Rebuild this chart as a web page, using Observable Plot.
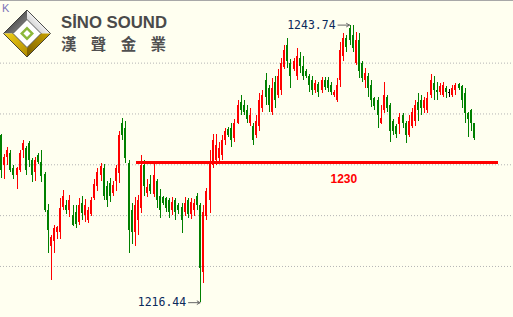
<!DOCTYPE html>
<html><head><meta charset="utf-8">
<script src="https://cdn.jsdelivr.net/npm/d3@7"></script>
<script src="https://cdn.jsdelivr.net/npm/@observablehq/plot@0.6"></script>
<style>
html,body{margin:0;padding:0;background:#fffff0;}
#wrap{position:relative;width:513px;height:317px;overflow:hidden;background:#fffff0;}
#wrap svg{display:block;}
.ovl{position:absolute;left:0;top:0;}
</style></head><body><div id="wrap"></div>
<script>
// ---- candle data (price, one bar per index) ----
const open = [
1232.9,1229.9,1230.7,1231.1,1229.6,1228.9,1229.4,1231.4,1231.6,1232.1,1230.4,1229.2,1230.9,1230.2,1229.0,1225.5,1222.0,1222.5,1223.3,1223.3,1225.8,1226.0,1225.5,1225.0,1225.3,1224.3,1226.2,1225.0,
1224.5,1225.1,1226.7,1227.9,1228.9,1229.6,1227.9,1228.2,1227.2,1228.4,1229.1,1234.1,1233.6,1230.1,1225.5,1223.3,1224.5,1225.7,1229.9,1227.2,1228.1,1227.1,1228.4,1226.9,
1226.8,1226.7,1226.5,1225.5,1226.5,1226.0,1225.8,1225.3,1226.5,1225.1,1225.5,1226.9,1226.0,1219.4,1224.9,1226.5,1229.9,1230.4,1230.6,1230.9,1232.4,1233.5,1233.6,1232.6,1234.1,1236.1,
1235.8,1235.3,1234.1,1233.8,1232.9,1233.8,1235.5,1238.3,1237.5,1235.1,1238.1,1236.8,1237.3,1239.6,1241.7,1240.0,1239.4,1238.7,1240.5,1239.7,1239.2,1238.7,1238.3,1237.3,1237.9,1237.3,1238.3,
1238.3,1237.8,1236.8,1236.3,1238.3,1240.7,1242.4,1243.4,1242.7,1240.0,1242.2,1240.0,1238.3,1238.7,1237.8,1236.5,1236.3,1234.1,1235.3,1236.6,1235.8,1234.3,1233.8,1234.0,1234.8,1234.1,
1232.9,1233.8,1234.3,1236.1,1236.3,1235.5,1235.3,1236.8,1238.0,1237.3,1237.1,1236.8,1237.5,1237.1,1236.8,1237.3,1237.9,1237.7,1237.0,1235.0,1235.3,1234.1
];
const high = [
1233.0,1231.0,1231.7,1231.4,1229.9,1229.7,1231.4,1232.4,1231.8,1232.3,1230.6,1230.7,1231.1,1231.4,1229.2,1226.1,1223.0,1224.0,1223.9,1226.7,1227.5,1226.5,1227.0,1226.0,1226.0,1226.7,1226.9,1226.6,
1225.8,1226.8,1228.6,1229.6,1230.1,1230.0,1228.4,1228.7,1228.4,1229.9,1233.3,1234.6,1234.3,1230.4,1226.2,1226.8,1227.0,1230.9,1230.4,1228.6,1228.9,1230.1,1228.6,1227.6,
1226.9,1226.8,1226.7,1226.8,1226.7,1226.2,1226.2,1226.8,1226.7,1226.7,1226.6,1227.2,1226.2,1226.0,1227.7,1231.4,1233.0,1233.0,1232.2,1232.9,1233.6,1233.7,1234.1,1234.5,1236.3,1236.8,
1236.3,1235.8,1235.5,1234.1,1234.8,1237.0,1237.3,1239.0,1237.8,1238.5,1238.7,1239.4,1240.5,1241.7,1242.4,1240.4,1240.5,1241.4,1241.0,1240.7,1239.4,1238.9,1238.7,1238.3,1238.1,1238.6,1238.6,
1238.6,1238.1,1237.3,1238.5,1242.0,1242.9,1242.7,1243.74,1243.7,1243.0,1242.9,1240.2,1239.5,1239.0,1238.3,1236.6,1236.6,1235.8,1238.1,1236.8,1236.0,1234.5,1234.0,1235.0,1235.0,1234.3,
1234.8,1235.5,1236.3,1237.0,1236.8,1236.6,1237.1,1238.9,1238.7,1238.1,1238.0,1238.1,1237.7,1237.4,1237.8,1238.0,1238.0,1237.8,1237.5,1235.1,1235.4,1234.1
];
const low = [
1228.7,1228.6,1229.9,1229.2,1228.6,1227.6,1229.2,1230.6,1228.9,1229.7,1228.3,1228.4,1230.0,1228.3,1225.3,1221.3,1218.6,1221.3,1222.7,1222.7,1225.5,1225.1,1224.8,1223.9,1223.7,1224.0,1224.5,1224.3,
1224.2,1224.9,1226.5,1227.4,1228.4,1226.5,1225.8,1226.3,1226.9,1227.4,1228.2,1232.4,1230.1,1221.3,1222.2,1222.0,1223.0,1225.2,1226.9,1226.8,1227.1,1226.8,1225.7,1224.7,
1226.0,1225.3,1224.7,1225.0,1224.5,1225.1,1223.2,1224.9,1224.7,1224.6,1224.9,1225.5,1216.44,1218.3,1224.5,1225.2,1229.6,1229.9,1230.2,1230.4,1231.9,1232.7,1231.7,1232.2,1234.0,1234.8,
1234.8,1234.1,1233.8,1231.9,1232.6,1233.3,1235.1,1235.8,1235.1,1234.8,1235.5,1236.5,1236.8,1239.4,1239.5,1237.5,1239.2,1238.3,1239.0,1238.3,1238.5,1237.1,1236.8,1237.0,1236.6,1237.0,1237.3,
1237.1,1236.8,1236.6,1236.1,1237.6,1240.2,1241.0,1241.7,1241.0,1239.8,1238.5,1238.1,1237.5,1236.6,1235.6,1235.3,1233.6,1234.0,1235.0,1235.1,1232.2,1232.9,1232.6,1233.0,1233.6,1232.1,
1232.7,1233.6,1233.8,1234.3,1234.8,1235.0,1235.0,1236.5,1236.3,1236.3,1236.8,1236.6,1236.5,1236.6,1236.6,1236.8,1237.3,1235.5,1234.1,1232.7,1233.3,1232.4
];
const close = [
1229.4,1230.7,1231.4,1229.4,1228.9,1229.6,1231.1,1232.1,1229.4,1230.4,1228.9,1230.4,1230.2,1228.8,1225.5,1223.5,1222.8,1223.7,1223.8,1225.7,1226.9,1225.5,1226.5,1224.0,1224.1,1226.0,1225.2,1226.0,
1225.5,1226.5,1228.1,1229.2,1229.8,1226.9,1226.5,1226.9,1228.0,1229.6,1232.9,1232.9,1230.6,1223.5,1223.3,1226.0,1226.5,1229.9,1227.9,1227.8,1227.4,1228.9,1226.5,1225.5,
1226.2,1225.7,1225.3,1226.3,1225.3,1225.5,1224.5,1226.2,1225.1,1226.3,1226.2,1226.0,1219.8,1225.3,1227.4,1230.2,1232.4,1231.9,1231.6,1232.4,1233.3,1232.9,1232.4,1234.1,1235.8,1235.3,
1235.1,1234.5,1234.8,1232.4,1234.3,1236.3,1236.8,1236.6,1235.8,1237.5,1236.3,1238.7,1240.0,1241.2,1240.2,1238.7,1240.2,1240.7,1239.7,1238.7,1238.7,1237.8,1237.3,1238.0,1237.1,1238.3,1237.6,
1237.5,1237.1,1237.1,1237.8,1241.2,1242.4,1241.5,1242.2,1241.4,1242.2,1239.2,1238.5,1239.0,1237.5,1236.3,1235.7,1234.8,1234.6,1236.8,1235.5,1233.3,1233.3,1233.0,1234.7,1234.1,1232.9,
1234.3,1235.1,1235.8,1235.3,1235.5,1236.3,1236.5,1238.3,1237.3,1237.1,1237.7,1237.8,1237.1,1237.1,1237.5,1237.8,1237.5,1236.3,1235.0,1234.5,1234.1,1232.6
];

// ---- reference levels and annotations ----
const gridLevels = [1220, 1225, 1230, 1235, 1240];
const supportLevel = 1230;
const supportLabel = "1230";
const supportFrom = 43.4;   // bar index where the line starts
const supportTo = 159.7;    // bar index where the line ends
const supportLabelAt = 110; // bar index of the label
const annLabels = ["1243.74", "1216.44"];
const annIndex = [112, 64];
const annPrice = [1243.74, 1216.44];

const UP = "#ff0000", DOWN = "#008000", FLAT = "#000000";
const candles = open.map((o, i) => ({
  i, open: o, high: high[i], low: low[i], close: close[i],
  color: close[i] > o ? UP : close[i] < o ? DOWN : FLAT
}));
const dojis = candles.filter(d => d.open === d.close);
const ann = annLabels.map((t, k) => ({t, i: annIndex[k], p: annPrice[k]}));

const chart = Plot.plot({
  width: 513, height: 317, margin: 0,
  style: {background: "#fffff0", overflow: "visible"},
  x: {domain: [-0.32, 164.5], axis: null},
  y: {domain: [1214.98, 1246.16], axis: null},
  marks: [
    Plot.ruleY(gridLevels, {stroke: "#b4b4b4", strokeDasharray: "1,2"}),
    Plot.frame({anchor: "top", stroke: "#a8a8a8"}),
    Plot.ruleX(candles, {x: "i", y1: "low", y2: "high", stroke: "color", strokeWidth: 1, shapeRendering: "crispEdges"}),
    Plot.rect(candles, {x1: d => d.i - 0.32, x2: d => d.i + 0.32, y1: "open", y2: "close", fill: "color", shapeRendering: "crispEdges"}),
    Plot.ruleY(dojis, {y: "open", x1: d => d.i - 0.4, x2: d => d.i + 0.4, stroke: FLAT, shapeRendering: "crispEdges"}),
    Plot.ruleY([supportLevel], {x1: supportFrom, x2: supportTo, stroke: "#ff0000", strokeWidth: 3, dy: -2, shapeRendering: "crispEdges"}),
    Plot.text([supportLabel], {x: supportLabelAt, y: supportLevel, text: d => d, dy: 14, fill: "#ff0000", fontSize: 12, fontWeight: "bold", fontFamily: "Liberation Sans, Arial, sans-serif"}),
    Plot.arrow(ann, {x1: d => d.i - 3.9, x2: d => d.i - 0.2, y1: "p", y2: "p", stroke: "#666666", strokeWidth: 1, headLength: 5}),
    Plot.text(ann, {x: "i", y: "p", text: "t", dx: -14.5, textAnchor: "end", fill: "#0b2a5c", fontSize: 11.5, fontFamily: "DejaVu Sans Mono, Liberation Mono, monospace"})
  ]
});
const wrap = document.getElementById("wrap");
wrap.appendChild(chart);

// ---- logo overlay ----
const ns = "http://www.w3.org/2000/svg";
const logo = document.createElementNS(ns, "svg");
logo.setAttribute("class", "ovl");
logo.setAttribute("width", 200);
logo.setAttribute("height", 62);
const cx = 27, cy = 33.5;
const P = (pts) => pts.map(p => p.join(",")).join(" ");
const R = 23.5, r = 14;
const T=[cx,cy-R], Rt=[cx+R,cy], B=[cx,cy+R], L=[cx-R,cy];
const t=[cx,cy-r], rt=[cx+r,cy], b=[cx,cy+r], l=[cx-r,cy];
logo.innerHTML = `
<defs>
 <linearGradient id="gtl" x1="0" y1="0" x2="1" y2="1"><stop offset="0" stop-color="#1a1a1a"/><stop offset="1" stop-color="#9a9a9a"/></linearGradient>
 <linearGradient id="gtr" x1="1" y1="0" x2="0" y2="1"><stop offset="0" stop-color="#5a5a5a"/><stop offset="0.5" stop-color="#f0f0f0"/><stop offset="1" stop-color="#b0b0b0"/></linearGradient>
 <linearGradient id="gbl" x1="0" y1="0" x2="1" y2="1"><stop offset="0" stop-color="#f2d21a"/><stop offset="1" stop-color="#b08a00"/></linearGradient>
 <linearGradient id="gbr" x1="1" y1="0" x2="0" y2="1"><stop offset="0" stop-color="#c9a300"/><stop offset="1" stop-color="#7a5e00"/></linearGradient>
</defs>
<polygon points="${P([L,T,t,l])}" fill="url(#gtl)"/>
<polygon points="${P([T,Rt,rt,t])}" fill="url(#gtr)"/>
<polygon points="${P([Rt,B,b,rt])}" fill="url(#gbr)"/>
<polygon points="${P([B,L,l,b])}" fill="url(#gbl)"/>
<polygon points="${P([T,Rt,B,L])}" fill="none" stroke="#222" stroke-width="0.8"/>
<polygon points="${P([t,rt,b,l])}" fill="#ffffff" stroke="#333" stroke-width="0.8"/>
<polygon points="${P([[cx,cy-7],[cx+7,cy],[cx,cy+7],[cx-7,cy]])}" fill="#8cb83a"/>
<polygon points="${P([[cx,cy-3.5],[cx+3.5,cy],[cx,cy+3.5],[cx-3.5,cy]])}" fill="#ffffff"/>
<text x="61" y="28.3" font-family="Liberation Sans, Arial, sans-serif" font-weight="bold" font-size="16.5" fill="#4a4a4a" textLength="106" lengthAdjust="spacingAndGlyphs">SİNO SOUND</text>
<text x="61" y="50" font-family="Noto Sans CJK TC, sans-serif" font-weight="bold" font-size="15.5" fill="#505050" textLength="105" lengthAdjust="spacing">漢聲金業</text>
<text x="2" y="12" font-family="Liberation Sans, Arial, sans-serif" font-size="11" fill="#7b72b8">K</text>
`;
wrap.appendChild(logo);
</script>
</body></html>
